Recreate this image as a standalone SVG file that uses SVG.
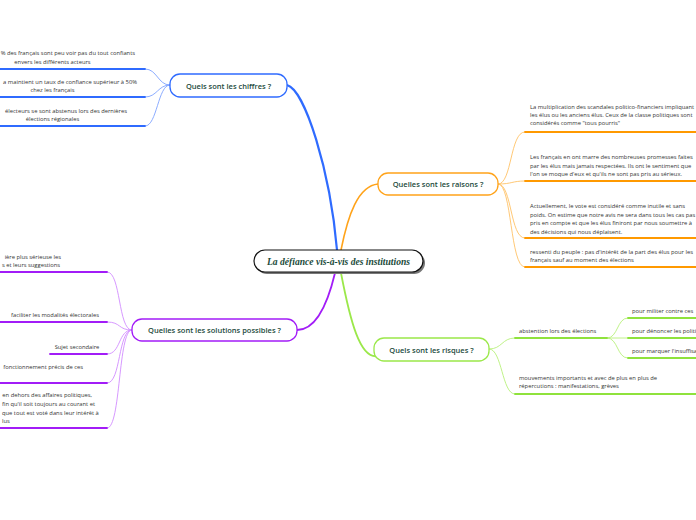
<svg xmlns="http://www.w3.org/2000/svg" width="696" height="520" viewBox="0 0 696 520">
<style>
.t{font-family:"Open Sans","Noto Sans",sans-serif;font-size:5.8px;fill:#333}
.m{text-anchor:middle}
.e{text-anchor:end}
.n{font-family:"Open Sans","Noto Sans",sans-serif;font-size:7.5px;font-weight:600;fill:#1c4a3c;text-anchor:middle}
.c{fill:none;stroke-width:0.9}
.u{fill:none;stroke-width:1.8;stroke-linecap:round}
.blue .c{stroke:#7fa3ff}.blue .u{stroke:#2f6bff}
.or .c{stroke:#ffc266}.or .u{stroke:#ff9900}
.pu .c{stroke:#d18cff}.pu .u{stroke:#a21cf7}
.gr .c{stroke:#b8f07a}.gr .u{stroke:#8fe23c}
.box{fill:#fff;stroke-width:1.3}
</style>
<rect width="696" height="520" fill="#fff"/>
<g id="connectors">
<path d="M337,250 C330,170 305,90 287,85" fill="none" stroke="#2f6bff" stroke-width="2.2"/>
<path d="M341,250 C348,215 358,186 378,184" fill="none" stroke="#ffa31a" stroke-width="1.6"/>
<path d="M335,273 C325,315 312,330 297,330" fill="none" stroke="#a21cf7" stroke-width="1.8"/>
<path d="M341,273 C350,320 360,360 378,356" fill="none" stroke="#9be84a" stroke-width="1.8"/>
<g class="blue">
<path class="c" d="M170,85 C158,85 157,69 145,69"/>
<path class="c" d="M170,85 C158,85 157,97 145,97"/>
<path class="c" d="M170,85 C158,85 157,126 145,126"/>
<path class="u" d="M0,69 H145 M0,97 H145 M0,126 H145"/>
</g>
<g class="or">
<path class="c" d="M498,184 C512,184 510,132 525,132"/>
<path class="c" d="M498,184 C512,184 512,181 525,181"/>
<path class="c" d="M498,184 C512,184 510,238 525,238"/>
<path class="c" d="M498,184 C512,184 510,267 525,267"/>
<path class="u" d="M525,132 H697 M525,181 H697 M525,238 H697 M525,267 H697"/>
</g>
<g class="gr">
<path class="c" d="M489,349 C502,349 502,338 515,338"/>
<path class="c" d="M489,349 C502,349 502,394 515,394"/>
<path class="c" d="M607,338 C618,338 617,318 628,318"/>
<path class="c" d="M607,338 H628"/>
<path class="c" d="M607,338 C618,338 617,358 628,358"/>
<path class="u" d="M515,338 H607 M515,394 H697 M628,318 H697 M628,338 H697 M628,358 H697"/>
</g>
<g class="pu">
<path class="c" d="M132,330 C118,330 121,272 107,272"/>
<path class="c" d="M132,330 C118,330 121,322 107,322"/>
<path class="c" d="M132,330 C118,330 121,354 107,354"/>
<path class="c" d="M132,330 C118,330 121,383 107,383"/>
<path class="c" d="M132,330 C118,330 121,428 107,428"/>
<path class="u" d="M0,272 H107 M0,322 H107 M50,354 H107 M0,383 H107 M0,428 H107"/>
</g>
</g>
<g id="center">
<rect x="256" y="252" width="169" height="22" rx="11" fill="#777"/>
<rect x="254" y="250" width="169" height="22" rx="11" fill="#fff" stroke="#111" stroke-width="1.2"/>
<text x="338.5" y="264.5" text-anchor="middle" textLength="143" lengthAdjust="spacingAndGlyphs" font-family="'Liberation Serif',serif" font-style="italic" font-weight="bold" font-size="10" fill="#1a4a3a">La défiance vis-à-vis des institutions</text>
</g>
<g id="chiffres">
<rect class="box" x="170" y="74" width="117" height="23" rx="10" stroke="#2f6bff"/>
<text class="n" x="228.5" y="88.5">Quels sont les chiffres ?</text>
</g>
<g id="chiffres-1">
<text class="t e" x="135" y="55">% des français sont peu voir pas du tout confiants</text>
<text class="t m" x="52.5" y="64">envers les différents acteurs</text>
</g>
<g id="chiffres-2">
<text class="t e" x="137" y="84">a maintient un taux de confiance supérieur à 50%</text>
<text class="t m" x="52.5" y="92">chez les français</text>
</g>
<g id="chiffres-3">
<text class="t e" x="127" y="113">électeurs se sont abstenus lors des dernières</text>
<text class="t m" x="52.5" y="121">élections régionales</text>
</g>
<g id="raisons">
<rect class="box" x="378" y="173" width="120" height="22" rx="10" stroke="#ffa31a"/>
<text class="n" x="438" y="187">Quelles sont les raisons ?</text>
</g>
<g id="raisons-1">
<text class="t" x="530" y="109">La multiplication des scandales politico-financiers impliquant</text>
<text class="t" x="530" y="117">les élus ou les anciens élus. Ceux de la classe politiques sont</text>
<text class="t" x="530" y="125">considérés comme "tous pourris"</text>
</g>
<g id="raisons-2">
<text class="t" x="530" y="159">Les français en ont marre des nombreuses promesses faites</text>
<text class="t" x="530" y="168">par les élus mais jamais respectées. Ils ont le sentiment que</text>
<text class="t" x="530" y="176">l'on se moque d'eux et qu'ils ne sont pas pris au sérieux.</text>
</g>
<g id="raisons-3">
<text class="t" x="530" y="208">Actuellement, le vote est considéré comme inutile et sans</text>
<text class="t" x="530" y="217">poids. On estime que notre avis ne sera dans tous les cas pas</text>
<text class="t" x="530" y="225">pris en compte et que les élus finiront par nous soumettre à</text>
<text class="t" x="530" y="234">des décisions qui nous déplaisent.</text>
</g>
<g id="raisons-4">
<text class="t" x="530" y="254">ressenti du peuple : pas d'intérêt de la part des élus pour les</text>
<text class="t" x="530" y="262">français sauf au moment des élections</text>
</g>
<g id="risques">
<rect class="box" x="374" y="338" width="115" height="23" rx="10" stroke="#9be84a"/>
<text class="n" x="431.5" y="352.5">Quels sont les risques ?</text>
</g>
<g id="risques-1">
<text class="t" x="519" y="333">abstention lors des élections</text>
</g>
<g id="risques-1a"><text class="t" x="632" y="313">pour militer contre ces</text></g>
<g id="risques-1b"><text class="t" x="632" y="333">pour dénoncer les politiques</text></g>
<g id="risques-1c"><text class="t" x="632" y="353">pour marquer l'insuffisance</text></g>
<g id="risques-2">
<text class="t" x="519" y="380">mouvements importants et avec de plus en plus de</text>
<text class="t" x="519" y="388">répercutions : manifestations, grèves</text>
</g>
<g id="solutions">
<rect class="box" x="132" y="319" width="165" height="22" rx="10" stroke="#a21cf7"/>
<text class="n" x="214.5" y="333">Quelles sont les solutions possibles ?</text>
</g>
<g id="solutions-1">
<text class="t e" x="61" y="259">ière plus sérieuse les</text>
<text class="t e" x="60" y="267">s et leurs suggestions</text>
</g>
<g id="solutions-2"><text class="t m" x="55" y="317">faciliter les modalités électorales</text></g>
<g id="solutions-3"><text class="t m" x="77" y="349">Sujet secondaire</text></g>
<g id="solutions-4"><text class="t e" x="83" y="369">fonctionnement précis de ces</text></g>
<g id="solutions-5">
<text class="t e" x="92" y="397">en dehors des affaires politiques,</text>
<text class="t" x="2" y="406">fin qu'il soit toujours au courant et</text>
<text class="t" x="2" y="415">que tout est voté dans leur intérêt à</text>
<text class="t" x="2" y="423">lus</text>
</g>
</svg>
